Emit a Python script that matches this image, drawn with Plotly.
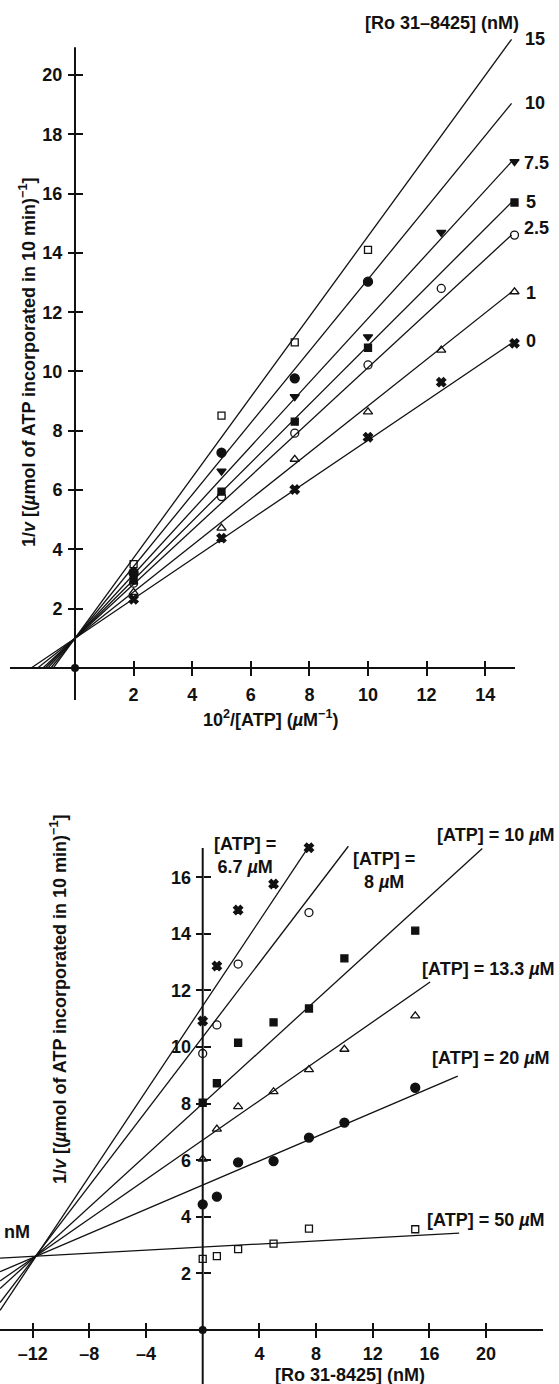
import plotly.graph_objects as go

W, H = 559, 1384

# ---------------- Panel A : double-reciprocal plot ----------------
lb_conc = ["0", "1", "2.5", "5", "7.5", "10", "15"]
lb_symbol = ["x", "triangle-up-open", "circle-open", "square", "triangle-down", "circle", "square-open"]
lb_x_0 = [2, 5, 7.5, 10, 12.5, 15]
lb_y_0 = [2.32, 4.38, 6.02, 7.78, 9.64, 10.95]
lb_x_1 = [2, 5, 7.5, 10, 12.5, 15]
lb_y_1 = [2.55, 4.72, 7.04, 8.64, 10.72, 12.69]
lb_x_25 = [2, 5, 7.5, 10, 12.5, 15]
lb_y_25 = [2.86, 5.78, 7.92, 10.22, 12.8, 14.6]
lb_x_5 = [2, 5, 7.5, 10, 15]
lb_y_5 = [2.95, 5.95, 8.31, 10.8, 15.7]
lb_x_75 = [2, 5, 7.5, 10, 12.5, 15]
lb_y_75 = [3.1, 6.64, 9.15, 11.17, 14.69, 17.08]
lb_x_10 = [2, 5, 7.5, 10]
lb_y_10 = [3.22, 7.26, 9.77, 13.03]
lb_x_15 = [2, 5, 7.5, 10]
lb_y_15 = [3.5, 8.51, 10.98, 14.1]
lb_xs = [lb_x_0, lb_x_1, lb_x_25, lb_x_5, lb_x_75, lb_x_10, lb_x_15]
lb_ys = [lb_y_0, lb_y_1, lb_y_25, lb_y_5, lb_y_75, lb_y_10, lb_y_15]
lb_intercept = 1.0
lb_slopes = [0.668, 0.784, 0.913, 0.987, 1.079, 1.211, 1.356]
lb_line_end = 14.9
lb_xticks = [2, 4, 6, 8, 10, 12, 14]
lb_yticks = [2, 4, 6, 8, 10, 12, 14, 16, 18, 20]
lb_xrange = [-2.218, 15.017]
lb_yaxis_extent = [-1.08, 20.94]
lb_yrange = [-1.08, 21.4]

# ---------------- Panel B : Dixon plot ----------------
dx_atp = ["6.7", "8", "10", "13.3", "20", "50"]
dx_symbol = ["x", "circle-open", "square", "triangle-up-open", "circle", "square-open"]
dx_x_67 = [0, 1, 2.5, 5, 7.5]
dx_y_67 = [10.92, 12.86, 14.84, 15.76, 17.04]
dx_x_8 = [0, 1, 2.5, 7.5]
dx_y_8 = [9.77, 10.78, 12.93, 14.75]
dx_x_10 = [0, 1, 2.5, 5, 7.5, 10, 15]
dx_y_10 = [8.03, 8.72, 10.15, 10.87, 11.36, 13.13, 14.11]
dx_x_133 = [0, 1, 2.5, 5, 7.5, 10, 15]
dx_y_133 = [6.04, 7.10, 7.89, 8.42, 9.2, 9.92, 11.1]
dx_x_20 = [0, 1, 2.5, 5, 7.5, 10, 15]
dx_y_20 = [4.44, 4.71, 5.92, 5.97, 6.80, 7.33, 8.56]
dx_x_50 = [0, 1, 2.5, 5, 7.5, 15]
dx_y_50 = [2.51, 2.61, 2.86, 3.05, 3.58, 3.56]
dx_xs = [dx_x_67, dx_x_8, dx_x_10, dx_x_133, dx_x_20, dx_x_50]
dx_ys = [dx_y_67, dx_y_8, dx_y_10, dx_y_133, dx_y_20, dx_y_50]
dx_intercepts = [11.45, 10.35, 8.0, 6.71, 5.12, 2.93]
dx_slopes = [0.752, 0.656, 0.457, 0.348, 0.214, 0.0274]
dx_line_start = -14.3
dx_line_end = [7.45, 10.28, 19.73, 16.05, 18.0, 18.1]
dx_xticks = [-12, -8, -4, 4, 8, 12, 16, 20]
dx_yticks = [2, 4, 6, 8, 10, 12, 14, 16]
dx_xrange = [-14.305, 24.016]
dx_yaxis_extent = [-1.908, 17.03]
dx_yrange = [-1.908, 17.3]


def pxx(p):
    return p / W


def pxy(p):
    return 1 - p / H


BLACK = "#111111"
FONT = dict(family="Liberation Sans, Arial, sans-serif", size=18, color=BLACK, weight="bold")
fig = go.Figure()

# ---- panel A traces
for conc, sym, xs, ys, k in zip(lb_conc, lb_symbol, lb_xs, lb_ys, lb_slopes):
    x0 = -lb_intercept / k
    fig.add_trace(go.Scatter(x=[x0, lb_line_end], y=[0, lb_intercept + k * lb_line_end],
                             mode="lines", line=dict(color=BLACK, width=1.3),
                             xaxis="x", yaxis="y", showlegend=False, hoverinfo="skip"))
for conc, sym, xs, ys in zip(lb_conc, lb_symbol, lb_xs, lb_ys):
    size = 7 if "square" in sym else 8
    if sym == "circle":
        size = 9
    fig.add_trace(go.Scatter(x=xs, y=ys, mode="markers", name=conc + " nM",
                             marker=dict(symbol=sym, size=size, color=BLACK,
                                         line=dict(color=BLACK, width=1.3)),
                             xaxis="x", yaxis="y", showlegend=False, cliponaxis=False))
fig.add_trace(go.Scatter(x=[0], y=[0], mode="markers", marker=dict(size=8, color=BLACK),
                         xaxis="x", yaxis="y", showlegend=False, cliponaxis=False))
fig.add_trace(go.Scatter(x=[None], y=[None], xaxis="x2", yaxis="y", showlegend=False))
fig.add_trace(go.Scatter(x=[None], y=[None], xaxis="x", yaxis="y2", showlegend=False))

# ---- panel B traces
for atp, sym, b, k, xe in zip(dx_atp, dx_symbol, dx_intercepts, dx_slopes, dx_line_end):
    fig.add_trace(go.Scatter(x=[dx_line_start, xe], y=[b + k * dx_line_start, b + k * xe],
                             mode="lines", line=dict(color=BLACK, width=1.3),
                             xaxis="x3", yaxis="y3", showlegend=False, hoverinfo="skip"))
for atp, sym, xs, ys in zip(dx_atp, dx_symbol, dx_xs, dx_ys):
    size = 7 if "square" in sym else 8
    if sym == "circle":
        size = 9
    fig.add_trace(go.Scatter(x=xs, y=ys, mode="markers", name=atp + " µM",
                             marker=dict(symbol=sym, size=size, color=BLACK,
                                         line=dict(color=BLACK, width=1.3)),
                             xaxis="x3", yaxis="y3", showlegend=False, cliponaxis=False))
fig.add_trace(go.Scatter(x=[0], y=[0], mode="markers", marker=dict(size=8, color=BLACK),
                         xaxis="x3", yaxis="y3", showlegend=False, cliponaxis=False))
fig.add_trace(go.Scatter(x=[None], y=[None], xaxis="x4", yaxis="y3", showlegend=False))
fig.add_trace(go.Scatter(x=[None], y=[None], xaxis="x3", yaxis="y4", showlegend=False))

# ---- axes
lbx_dom = [pxx(10), pxx(515)]
lby_dom = [pxy(700), pxy(668 - lb_yrange[1] * 29.65)]
dxx_dom = [pxx(0), pxx(543)]
dxy_dom = [pxy(1384), pxy(1330 - dx_yrange[1] * 28.3)]

common = dict(showgrid=False, zeroline=False, showline=False, tickcolor=BLACK,
              tickwidth=1.6, ticklen=7, tickfont=FONT, fixedrange=True)

fig.update_layout(
    xaxis=dict(domain=lbx_dom, range=lb_xrange, anchor="free", position=pxy(668),
               ticks="outside", tickmode="array", tickvals=lb_xticks,
               ticklabelstandoff=3, **common),
    xaxis2=dict(overlaying="x", range=lb_xrange, anchor="free", position=pxy(668),
                ticks="inside", tickmode="array", tickvals=lb_xticks,
                showticklabels=False, **common),
    yaxis=dict(domain=lby_dom, range=lb_yrange, anchor="free", position=pxx(75),
               ticks="outside", tickmode="array", tickvals=lb_yticks,
               ticklabelstandoff=2, **common),
    yaxis2=dict(overlaying="y", range=lb_yrange, anchor="free", position=pxx(75),
                ticks="inside", tickmode="array", tickvals=lb_yticks,
                showticklabels=False, **common),
    xaxis3=dict(domain=dxx_dom, range=dx_xrange, anchor="free", position=pxy(1330),
                ticks="outside", tickmode="array", tickvals=dx_xticks,
                ticktext=["\u2013" + str(-v) if v < 0 else str(v) for v in dx_xticks],
                ticklabelstandoff=0, **common),
    xaxis4=dict(overlaying="x3", range=dx_xrange, anchor="free", position=pxy(1330),
                ticks="inside", tickmode="array", tickvals=dx_xticks,
                showticklabels=False, **common),
    yaxis3=dict(domain=dxy_dom, range=dx_yrange, anchor="free", position=pxx(202.7),
                ticks="outside", tickmode="array", tickvals=dx_yticks,
                ticklabelstandoff=1, **common),
    yaxis4=dict(overlaying="y3", range=dx_yrange, anchor="free", position=pxx(202.7),
                ticks="inside", tickmode="array", tickvals=dx_yticks,
                showticklabels=False, **common),
)

# axis lines
shapes = [
    dict(type="line", xref="x", yref="y", x0=0, x1=0, y0=lb_yaxis_extent[0], y1=lb_yaxis_extent[1],
         line=dict(color=BLACK, width=2), layer="below"),
    dict(type="line", xref="x", yref="y", x0=lb_xrange[0], x1=lb_xrange[1], y0=0, y1=0,
         line=dict(color=BLACK, width=2), layer="below"),
    dict(type="line", xref="x3", yref="y3", x0=0, x1=0, y0=dx_yaxis_extent[0], y1=dx_yaxis_extent[1],
         line=dict(color=BLACK, width=2), layer="below"),
    dict(type="line", xref="x3", yref="y3", x0=dx_xrange[0], x1=dx_xrange[1], y0=0, y1=0,
         line=dict(color=BLACK, width=2), layer="below"),
]

ytitle = "1/<i>v</i> [(<i>\u00b5</i>mol of ATP incorporated in 10 min)<sup>\u22121</sup>]"
ann = []


def add_text(text, x, y, xanchor="center", angle=0, align="center"):
    ann.append(dict(text=text, x=pxx(x), y=pxy(y), xref="paper", yref="paper",
                    xanchor=xanchor, yanchor="middle", showarrow=False,
                    textangle=angle, font=FONT, align=align))


# panel A text
add_text("[Ro 31\u20138425] (nM)", 442, 23)
lb_label_pos = [(524, 341), (524, 293), (522, 228), (524, 202), (522, 163), (523, 103), (523, 39)]
for conc, (lx, ly) in zip(lb_conc, lb_label_pos):
    add_text(conc, lx, ly, xanchor="left")
add_text(ytitle, 28, 363, angle=-90)
add_text("10<sup>2</sup>/[ATP] (<i>\u00b5</i>M<sup>\u22121</sup>)", 270, 718)

# panel B text
add_text("[ATP] =<br>6.7 <i>\u00b5</i>M", 245, 855)
add_text("[ATP] =<br>8 <i>\u00b5</i>M", 384, 870)
add_text("[ATP] = 10 <i>\u00b5</i>M", 557, 835, xanchor="right")
add_text("[ATP] = 13.3 <i>\u00b5</i>M", 557, 969, xanchor="right")
add_text("[ATP] = 20 <i>\u00b5</i>M", 552, 1058, xanchor="right")
add_text("[ATP] = 50 <i>\u00b5</i>M", 425, 1220, xanchor="left")
add_text("nM", 2, 1232, xanchor="left")
add_text(ytitle, 58, 1000, angle=-90)
add_text("[Ro 31-8425] (nM)", 350, 1375)

fig.update_layout(
    width=W, height=H, margin=dict(l=0, r=0, t=0, b=0),
    paper_bgcolor="white", plot_bgcolor="white",
    font=FONT, shapes=shapes, annotations=ann, showlegend=False,
)

fig.write_html("out.html", config={"displayModeBar": False},
               post_script="document.body.style.margin='0';document.body.style.overflow='hidden';")
